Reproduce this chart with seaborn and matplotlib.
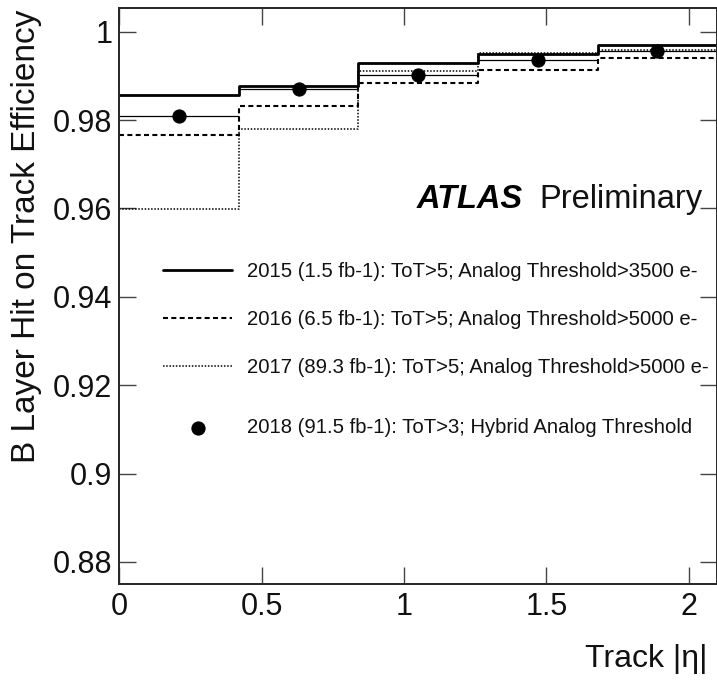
import numpy as np
import pandas as pd
import seaborn as sns
import matplotlib.pyplot as plt

# bin edges in |eta| and efficiencies per bin
eta_edges = [0.0, 0.42, 0.84, 1.26, 1.68, 2.1]
eff_2015 = [0.9856, 0.9877, 0.9929, 0.9949, 0.9969]
eff_2016 = [0.9766, 0.9832, 0.9885, 0.9913, 0.9940]
eff_2017 = [0.9598, 0.9779, 0.9910, 0.9952, 0.9959]
eff_2018 = [0.9810, 0.9871, 0.9901, 0.9935, 0.9956]

labels = ['2015 (1.5 fb-1): ToT>5; Analog Threshold>3500 e-',
          '2016 (6.5 fb-1): ToT>5; Analog Threshold>5000 e-',
          '2017 (89.3 fb-1): ToT>5; Analog Threshold>5000 e-',
          '2018 (91.5 fb-1): ToT>3; Hybrid Analog Threshold']

sns.set_style('ticks')
plt.rcParams['font.family'] = ['Liberation Sans', 'DejaVu Sans']

fig = plt.figure(figsize=(7.17, 6.85), dpi=100)
ax = fig.add_axes([0.1664, 0.1474, 0.834, 0.8405])

styles = [('-', 2.0, None), ('--', 1.5, (2.4, 1.6)), (':', 1.1, (1, 1.1))]
for vals, (ls, lw, dash), lab in zip([eff_2015, eff_2016, eff_2017], styles, labels[:3]):
    step_df = pd.DataFrame({'x': eta_edges, 'y': list(vals) + [vals[-1]]})
    sns.lineplot(data=step_df, x='x', y='y', ax=ax, color='black', linestyle=ls,
                 linewidth=lw, drawstyle='steps-post', label=lab)
    if dash is not None:
        ax.lines[-1].set_dashes(dash)

edges = np.array(eta_edges)
centers = (edges[:-1] + edges[1:]) / 2
half = (edges[1:] - edges[:-1]) / 2
ax.errorbar(centers, eff_2018, xerr=half, fmt='none', ecolor='black', elinewidth=0.9)
pts = pd.DataFrame({'x': centers, 'y': eff_2018})
sns.scatterplot(data=pts, x='x', y='y', ax=ax, color='black', s=90,
                edgecolor='black', zorder=5, label=labels[3])

ax.set_xlim(0, 2.1)
ax.set_ylim(0.875, 1.0053)
ax.set_xticks([0, 0.5, 1, 1.5, 2])
ax.set_xticklabels(['0', '0.5', '1', '1.5', '2'])
ax.set_yticks([0.88, 0.9, 0.92, 0.94, 0.96, 0.98, 1.0])
ax.set_yticklabels(['0.88', '0.9', '0.92', '0.94', '0.96', '0.98', '1'])
ax.tick_params(direction='in', length=12, width=1, labelsize=22, top=True, right=True,
               color='#444444', labelcolor='#111111')
ax.tick_params(axis='x', pad=6)
ax.tick_params(axis='y', pad=5)
for sp in ax.spines.values():
    sp.set_linewidth(1.4)

ax.set_xlabel('Track |η|', fontsize=23, loc='right', color='#111111')
ax.xaxis.set_label_coords(0.983, -0.105)
ax.set_ylabel('B Layer Hit on Track Efficiency', fontsize=24, loc='top', color='#111111')
ax.yaxis.set_label_coords(-0.13, 0.998)

ax.text(0.498, 0.653, 'ATLAS', transform=ax.transAxes, fontsize=23.5,
        fontweight='bold', fontstyle='italic', ha='left', va='baseline', color='black')
ax.text(0.702, 0.653, 'Preliminary', transform=ax.transAxes, fontsize=23.5,
        ha='left', va='baseline', color='#111111')

h, l = ax.get_legend_handles_labels()
leg1 = ax.legend(h[:3], l[:3], loc='upper left', bbox_to_anchor=(0.0736, 0.56),
                 frameon=False, fontsize=14.6, handlelength=3.4, handletextpad=0.75,
                 labelspacing=1.45, borderpad=0, borderaxespad=0, labelcolor='#111111')
ax.add_artist(leg1)
ax.legend(h[3:], l[3:], loc='upper left', bbox_to_anchor=(0.0736, 0.288),
          frameon=False, fontsize=14.6, handlelength=3.4, handletextpad=0.75,
          borderpad=0, borderaxespad=0, labelcolor='#111111')

fig.savefig('out.png', dpi=100)
